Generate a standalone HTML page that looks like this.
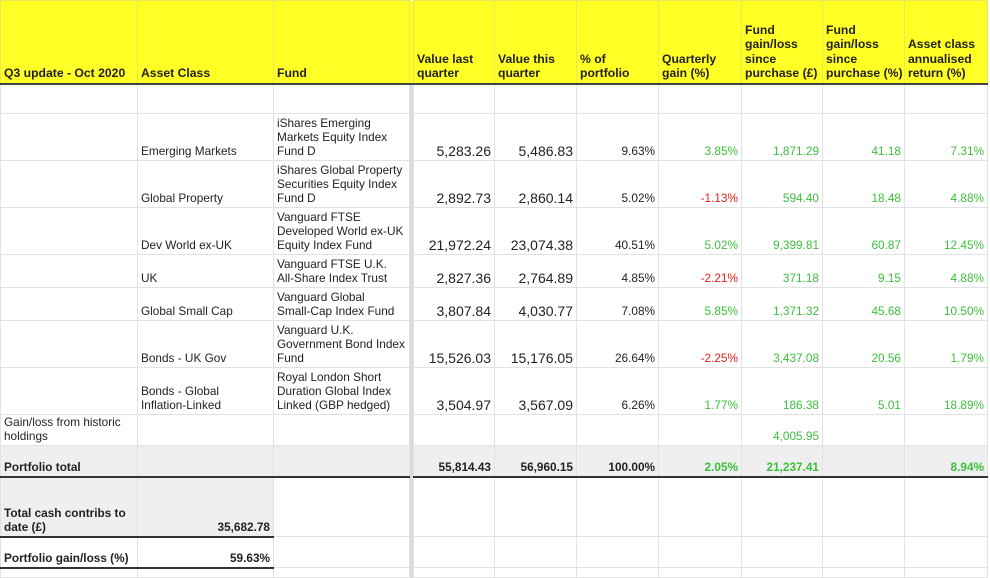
<!DOCTYPE html><html><head><style>
body{margin:0;width:990px;height:574px;overflow:hidden;background:#fff;font-family:"Liberation Sans",Arial,sans-serif;}
table{border-collapse:collapse;table-layout:fixed;position:absolute;left:0;top:0;width:987px}
td{border:1px solid #e2e2e2;padding:0 3px 2px 3px;vertical-align:bottom;font-size:11.8px;line-height:14px;color:#222;overflow:hidden;white-space:nowrap}
tr.h td{background:#ffff26;font-weight:bold;font-size:12.2px;border-color:#e8e85a;border-bottom:2px solid #444;line-height:14.5px;padding-right:1px}
td.s{background:#d8dce2;border:none;padding:0}
.r{text-align:right}
.b{font-size:14px}
.g{color:#3cbf3c}.red{color:#e0201c}
tr.t td{background:#efefef;font-weight:bold;border-top:1px dotted #666;border-bottom:2px solid #333}
tr.t td.s{background:#d8dce2;border:none}
.gr{background:#efefef;font-weight:bold}
.bb{border-bottom:2px solid #333}
</style></head><body>
<table>
<colgroup><col style="width:137px"><col style="width:136px"><col style="width:136px"><col style="width:4px"><col style="width:81px"><col style="width:82px"><col style="width:82px"><col style="width:83px"><col style="width:81px"><col style="width:82px"><col style="width:83px"></colgroup>
<tr class="h" style="height:83px"><td>Q3 update - Oct 2020</td><td>Asset Class</td><td>Fund</td><td class="s"></td><td>Value last<br>quarter</td><td>Value this<br>quarter</td><td>% of<br>portfolio</td><td>Quarterly<br>gain (%)</td><td>Fund<br>gain/loss<br>since<br>purchase (£)</td><td>Fund<br>gain/loss<br>since<br>purchase (%)</td><td>Asset class<br>annualised<br>return (%)</td></tr>
<tr style="height:30px"><td></td><td></td><td></td><td class="s"></td><td></td><td></td><td></td><td></td><td></td><td></td><td></td></tr>
<tr style="height:47px"><td></td><td>Emerging Markets</td><td>iShares Emerging<br>Markets Equity Index<br>Fund D</td><td class="s"></td><td class="r b">5,283.26</td><td class="r b">5,486.83</td><td class="r">9.63%</td><td class="r g">3.85%</td><td class="r g">1,871.29</td><td class="r g">41.18</td><td class="r g">7.31%</td></tr>
<tr style="height:47px"><td></td><td>Global Property</td><td>iShares Global Property<br>Securities Equity Index<br>Fund D</td><td class="s"></td><td class="r b">2,892.73</td><td class="r b">2,860.14</td><td class="r">5.02%</td><td class="r red">-1.13%</td><td class="r g">594.40</td><td class="r g">18.48</td><td class="r g">4.88%</td></tr>
<tr style="height:47px"><td></td><td>Dev World ex-UK</td><td>Vanguard FTSE<br>Developed World ex-UK<br>Equity Index Fund</td><td class="s"></td><td class="r b">21,972.24</td><td class="r b">23,074.38</td><td class="r">40.51%</td><td class="r g">5.02%</td><td class="r g">9,399.81</td><td class="r g">60.87</td><td class="r g">12.45%</td></tr>
<tr style="height:33px"><td></td><td>UK</td><td>Vanguard FTSE U.K.<br>All-Share Index Trust</td><td class="s"></td><td class="r b">2,827.36</td><td class="r b">2,764.89</td><td class="r">4.85%</td><td class="r red">-2.21%</td><td class="r g">371.18</td><td class="r g">9.15</td><td class="r g">4.88%</td></tr>
<tr style="height:33px"><td></td><td>Global Small Cap</td><td>Vanguard Global<br>Small-Cap Index Fund</td><td class="s"></td><td class="r b">3,807.84</td><td class="r b">4,030.77</td><td class="r">7.08%</td><td class="r g">5.85%</td><td class="r g">1,371.32</td><td class="r g">45.68</td><td class="r g">10.50%</td></tr>
<tr style="height:47px"><td></td><td>Bonds - UK Gov</td><td>Vanguard U.K.<br>Government Bond Index<br>Fund</td><td class="s"></td><td class="r b">15,526.03</td><td class="r b">15,176.05</td><td class="r">26.64%</td><td class="r red">-2.25%</td><td class="r g">3,437.08</td><td class="r g">20.56</td><td class="r g">1.79%</td></tr>
<tr style="height:47px"><td></td><td>Bonds - Global<br>Inflation-Linked</td><td>Royal London Short<br>Duration Global Index<br>Linked (GBP hedged)</td><td class="s"></td><td class="r b">3,504.97</td><td class="r b">3,567.09</td><td class="r">6.26%</td><td class="r g">1.77%</td><td class="r g">186.38</td><td class="r g">5.01</td><td class="r g">18.89%</td></tr>
<tr style="height:31px"><td>Gain/loss from historic<br>holdings</td><td></td><td></td><td class="s"></td><td></td><td></td><td></td><td></td><td class="r g">4,005.95</td><td></td><td></td></tr>
<tr class="t" style="height:31px"><td>Portfolio total</td><td></td><td></td><td class="s"></td><td class="r">55,814.43</td><td class="r">56,960.15</td><td class="r">100.00%</td><td class="r g">2.05%</td><td class="r g">21,237.41</td><td></td><td class="r g">8.94%</td></tr>
<tr style="height:60px"><td class="gr bb">Total cash contribs to<br>date (£)</td><td class="r gr bb">35,682.78</td><td></td><td class="s"></td><td></td><td></td><td></td><td></td><td></td><td></td><td></td></tr>
<tr style="height:31px"><td class="bb" style="font-weight:bold">Portfolio gain/loss (%)</td><td class="r bb" style="font-weight:bold">59.63%</td><td></td><td class="s"></td><td></td><td></td><td></td><td></td><td></td><td></td><td></td></tr>
<tr style="height:10px"><td></td><td></td><td></td><td class="s"></td><td></td><td></td><td></td><td></td><td></td><td></td><td></td></tr>
</table>
</body></html>
